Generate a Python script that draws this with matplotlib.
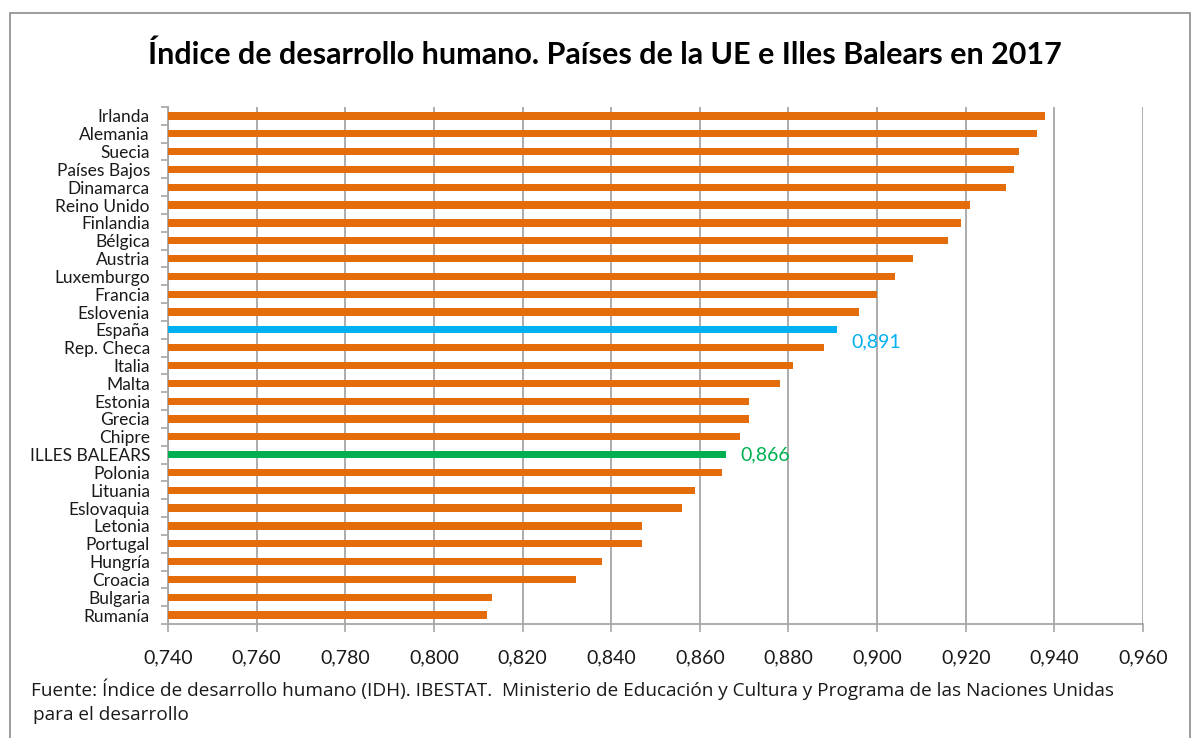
import matplotlib.pyplot as plt
from matplotlib.patches import Rectangle
from matplotlib.ticker import FixedLocator, FuncFormatter

plt.rcParams['font.family'] = ['Lato', 'DejaVu Sans']

# datos (de arriba a abajo)
paises = ["Irlanda", "Alemania", "Suecia", "Países Bajos", "Dinamarca", "Reino Unido",
          "Finlandia", "Bélgica", "Austria", "Luxemburgo", "Francia", "Eslovenia",
          "España", "Rep. Checa", "Italia", "Malta", "Estonia", "Grecia", "Chipre",
          "ILLES BALEARS", "Polonia", "Lituania", "Eslovaquia", "Letonia", "Portugal",
          "Hungría", "Croacia", "Bulgaria", "Rumanía"]
idh = [0.938, 0.936, 0.932, 0.931, 0.929, 0.921,
       0.919, 0.916, 0.908, 0.904, 0.900, 0.896,
       0.891, 0.888, 0.881, 0.878, 0.871, 0.871, 0.869,
       0.866, 0.865, 0.859, 0.856, 0.847, 0.847,
       0.838, 0.832, 0.813, 0.812]
destacados = ["España", "ILLES BALEARS"]

naranja = "#E46C0A"
colores_destacados = {"España": "#00B0F0", "ILLES BALEARS": "#00B050"}
colores = [colores_destacados.get(p, naranja) for p in paises]

fig = plt.figure(figsize=(11.94, 7.38), dpi=100)
ax = fig.add_axes([168/1194, 1-624/738, (1143-168)/1194, (624-107)/738])

pos = list(range(len(paises)))
ax.barh(pos, idh, left=0, height=0.41, color=colores, zorder=3)
ax.set_ylim(len(paises)-0.5, -0.5)
ax.set_xlim(0.74, 0.96)

ax.set_xticks([0.74 + 0.02*i for i in range(12)])
ax.xaxis.set_major_formatter(FuncFormatter(lambda v, p: ("%.3f" % v).replace(".", ",")))
ax.grid(axis='x', color='#A6A6A6', linewidth=1.3, zorder=0)
ax.set_axisbelow(True)

ax.set_yticks(pos)
ax.set_yticklabels(paises)
ax.yaxis.set_minor_locator(FixedLocator([i - 0.5 for i in range(len(paises)+1)]))
ax.tick_params(axis='y', which='major', length=0, pad=13, labelsize=12.5, labelcolor='#1a1a1a')
ax.tick_params(axis='y', which='minor', length=5, width=1.2, color='#A6A6A6')
ax.tick_params(axis='x', length=6, width=1.2, color='#A6A6A6', pad=12, labelsize=14, labelcolor='#1a1a1a')

for s in ['top', 'right']:
    ax.spines[s].set_visible(False)
for s in ['left', 'bottom']:
    ax.spines[s].set_color('#A6A6A6')
    ax.spines[s].set_linewidth(1.3)

# etiquetas de valor
for p in destacados:
    i = paises.index(p)
    dy = -9 if p == "España" else 0
    ax.annotate(("%.3f" % idh[i]).replace(".", ","), (idh[i], i), xytext=(10, dy),
                textcoords='offset points', va='center', ha='left',
                fontsize=14, color=colores_destacados[p])

fig.text(605/1194, 1-55/738, "Índice de desarrollo humano. Países de la UE e Illes Balears en 2017",
         ha='center', va='center', fontsize=22, fontweight='bold', color='black')

fig.text(31/1194, 1-689/738,
         "Fuente: Índice de desarrollo humano (IDH). IBESTAT.  Ministerio de Educación y Cultura y Programa de las Naciones Unidas",
         ha='left', va='center', fontsize=13.7, color='#1a1a1a', family=['Open Sans', 'DejaVu Sans'])
fig.text(33/1194, 1-715/738, "para el desarrollo", ha='left', va='center', fontsize=13.7,
         color='#1a1a1a', family=['Open Sans', 'DejaVu Sans'])

fig.patches.append(Rectangle((10/1194, -0.05), 1180/1194, 1.05-13/738, transform=fig.transFigure,
                             fill=False, edgecolor='#8C8C8C', linewidth=1.2))

fig.savefig("out.png", dpi=100)
